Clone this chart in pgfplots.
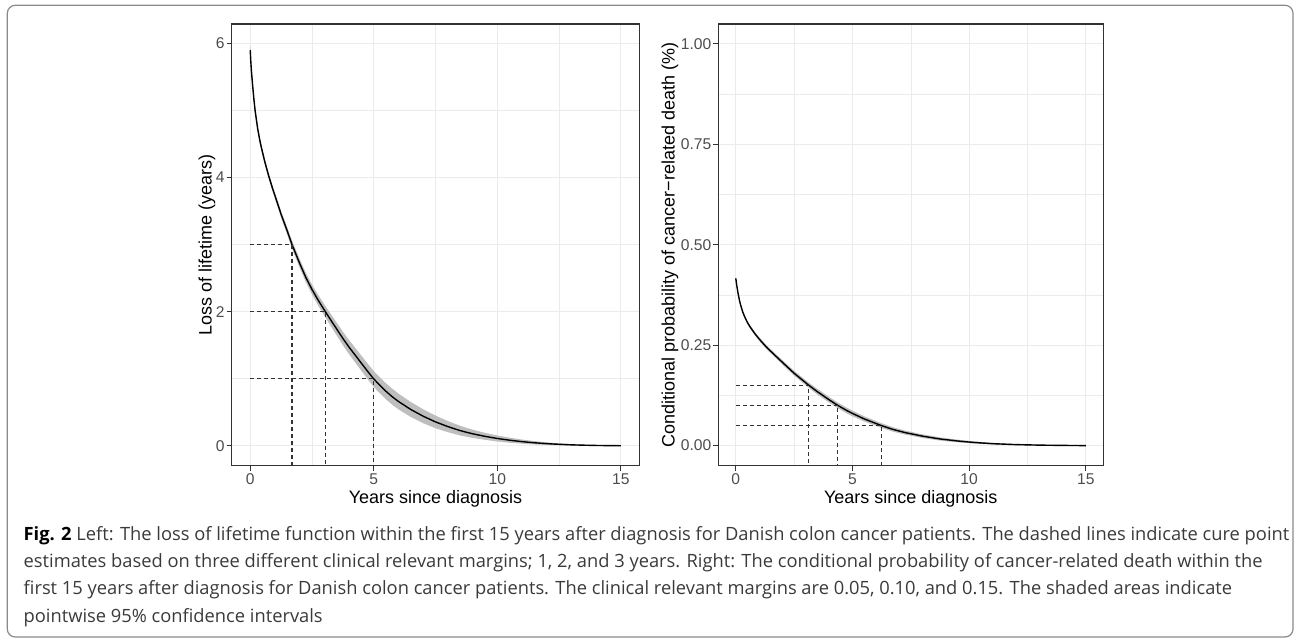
\documentclass[border=0pt]{standalone}
\usepackage{fontspec}
\setmainfont{Liberation Sans}
\newfontfamily\capfont{Open Sans}
\usepackage{pgfplots}
\usepackage{pgfplotstable}
\pgfplotsset{compat=1.18}
\usepgfplotslibrary{fillbetween}

\definecolor{ggrid}{HTML}{EBEBEB}
\definecolor{ggborder}{HTML}{333333}
\definecolor{ggtick}{HTML}{4D4D4D}
\definecolor{bandcol}{HTML}{BEBEBE}
\definecolor{capcol}{HTML}{3A3A3A}
\definecolor{framecol}{HTML}{8A8A8A}

% t, loss of lifetime L, half width of the 95% CI
\pgfplotstableread{
t L hw
0 5.90 0.07
0.02 5.75 0.065
0.05 5.58 0.06
0.1 5.36 0.055
0.15 5.16 0.05
0.2 4.99 0.05
0.3 4.73 0.045
0.4 4.53 0.045
0.5 4.37 0.045
0.6 4.22 0.045
0.75 4.02 0.045
0.9 3.84 0.045
1.0 3.73 0.045
1.25 3.45 0.05
1.5 3.20 0.055
1.69 3.00 0.06
2.0 2.72 0.065
2.25 2.51 0.07
2.5 2.33 0.075
2.75 2.17 0.08
3.04 2.00 0.085
3.25 1.88 0.09
3.5 1.74 0.095
3.75 1.60 0.10
4.0 1.47 0.105
4.25 1.35 0.11
4.5 1.23 0.113
4.75 1.11 0.116
4.99 1.00 0.118
5.25 0.90 0.12
5.5 0.81 0.12
5.75 0.73 0.12
6.0 0.66 0.118
6.5 0.54 0.112
7.0 0.44 0.104
7.5 0.355 0.094
8.0 0.285 0.083
8.5 0.225 0.072
9.0 0.178 0.061
9.5 0.140 0.052
10.0 0.108 0.045
10.5 0.082 0.038
11.0 0.061 0.031
11.5 0.044 0.025
12.0 0.031 0.019
12.5 0.021 0.014
13.0 0.013 0.010
13.5 0.008 0.006
14.0 0.004 0.0035
14.5 0.0015 0.0015
15.0 0.0 0.0005
}\lol

% t, conditional probability P, half width of the 95% CI
\pgfplotstableread{
t P hw
0 0.416 0.003
0.02 0.407 0.003
0.05 0.395 0.003
0.1 0.378 0.003
0.15 0.363 0.003
0.2 0.351 0.003
0.3 0.332 0.0035
0.4 0.318 0.0035
0.5 0.306 0.0035
0.6 0.2965 0.004
0.8 0.2798 0.004
1.0 0.2653 0.0045
1.31 0.2452 0.005
1.6 0.229 0.005
2.0 0.207 0.0055
2.5 0.180 0.006
3.13 0.150 0.0065
3.5 0.134 0.007
4.0 0.114 0.007
4.37 0.100 0.007
4.75 0.0875 0.007
5.0 0.080 0.007
5.5 0.0665 0.0065
6.23 0.050 0.006
6.75 0.040 0.0055
7.25 0.0325 0.005
8.0 0.0235 0.0045
8.75 0.0165 0.004
9.5 0.0115 0.0033
10.17 0.008 0.0027
11.0 0.0048 0.002
12.0 0.0025 0.0013
13.0 0.0012 0.0007
14.0 0.0005 0.0003
15.0 0.0 0.0001
}\cpd

\pgfplotsset{
  gg/.style={
    scale only axis, height=220.85pt,
    anchor=south west, clip=false,
    xmin=-0.75, xmax=15.75,
    xtick={0,5,10,15}, xticklabels={0,5,10,15},
    minor xtick={2.5,7.5,12.5},
    grid=both,
    major grid style={draw=ggrid, line width=0.6pt},
    minor grid style={draw=ggrid, line width=0.3pt},
    axis line style={draw=ggborder, line width=0.65pt},
    tick align=outside, tick pos=left,
    major tick length=2.5pt, minor tick length=0pt,
    tick style={draw=ggborder, line width=0.6pt},
    /pgf/number format/assume math mode=true,
    ticklabel style={font=\fontsize{7.8}{8}\selectfont, text=ggtick},
    xticklabel style={anchor=north, inner sep=0pt, yshift=-1.3pt},
    yticklabel style={anchor=east, inner sep=0pt, xshift=-0.85pt},
    xlabel={Years since diagnosis},
    every axis x label/.style={at={(rel axis cs:0.5,0)}, anchor=base, yshift=-18.8pt,
      font=\fontsize{9}{10}\selectfont, text=black},
  },
  dashln/.style={draw=black!80, line width=0.6pt, dash pattern=on 2pt off 1.5pt},
  curveln/.style={draw=black, line width=0.7pt},
}

\begin{document}
\begin{tikzpicture}[x=1pt,y=1pt]
\path (0,0) rectangle (647,319);
\draw[framecol, line width=0.6pt, rounded corners=4pt] (3.65,0.5) rectangle (646.5,316.35);

\begin{axis}[gg, at={(115.85pt,86.15pt)}, width=203.8pt,
  ymin=-0.298, ymax=6.288,
  ytick={0,2,4,6}, yticklabels={0,2,4,6},
  minor ytick={1,3,5},
  ylabel={Loss of lifetime (years)},
  every axis y label/.style={at={(rel axis cs:0,0.5)}, xshift=-10pt, rotate=90, anchor=base,
    font=\fontsize{9}{10}\selectfont, text=black},
]
\addplot[draw=none, name path=lolhi, forget plot] table[x=t, y expr=\thisrow{L}+\thisrow{hw}]{\lol};
\addplot[draw=none, name path=lollo, forget plot] table[x=t, y expr=\thisrow{L}-\thisrow{hw}]{\lol};
\addplot[fill=bandcol, draw=none] fill between[of=lolhi and lollo];
\addplot[curveln] table[x=t, y=L]{\lol};
\addplot[dashln] coordinates {(0,3) (1.69,3) (1.69,-0.298)};
\addplot[dashln] coordinates {(0,2) (3.04,2) (3.04,-0.298)};
\addplot[dashln] coordinates {(0,1) (4.99,1) (4.99,-0.298)};
\end{axis}

\begin{axis}[gg, at={(359.15pt,86.15pt)}, width=192.5pt,
  ymin=-0.05, ymax=1.049,
  ytick={0,0.25,0.5,0.75,1}, yticklabels={0.00,0.25,0.50,0.75,1.00},
  minor ytick={0.125,0.375,0.625,0.875},
  ylabel={Conditional probability of cancer−related death (\%)},
  every axis y label/.style={at={(rel axis cs:0,0.5)}, xshift=-21.9pt, rotate=90, anchor=base,
    font=\fontsize{9}{10}\selectfont, text=black},
]
\addplot[draw=none, name path=cpdhi, forget plot] table[x=t, y expr=\thisrow{P}+\thisrow{hw}]{\cpd};
\addplot[draw=none, name path=cpdlo, forget plot] table[x=t, y expr=\thisrow{P}-\thisrow{hw}]{\cpd};
\addplot[fill=bandcol, draw=none] fill between[of=cpdhi and cpdlo];
\addplot[curveln] table[x=t, y=P]{\cpd};
\addplot[dashln] coordinates {(0,0.15) (3.13,0.15) (3.13,-0.05)};
\addplot[dashln] coordinates {(0,0.10) (4.37,0.10) (4.37,-0.05)};
\addplot[dashln] coordinates {(0,0.05) (6.23,0.05) (6.23,-0.05)};
\end{axis}

\begin{scope}[every node/.style={anchor=base west, inner sep=0pt, font=\capfont\fontsize{9.15}{10}\selectfont, text=capcol}]
\node at (11.65,49) {{\color{black}\textbf{Fig. 2}} Left: The loss of lifetime function within the first 15 years after diagnosis for Danish colon cancer patients. The dashed lines indicate cure point};
\node at (11.65,35.3) {estimates based on three different clinical relevant margins; 1, 2, and 3 years. Right: The conditional probability of cancer-related death within the};
\node at (11.65,21.6) {first 15 years after diagnosis for Danish colon cancer patients. The clinical relevant margins are 0.05, 0.10, and 0.15. The shaded areas indicate};
\node at (11.65,7.9) {pointwise 95\% confidence intervals};
\end{scope}
\end{tikzpicture}
\end{document}
